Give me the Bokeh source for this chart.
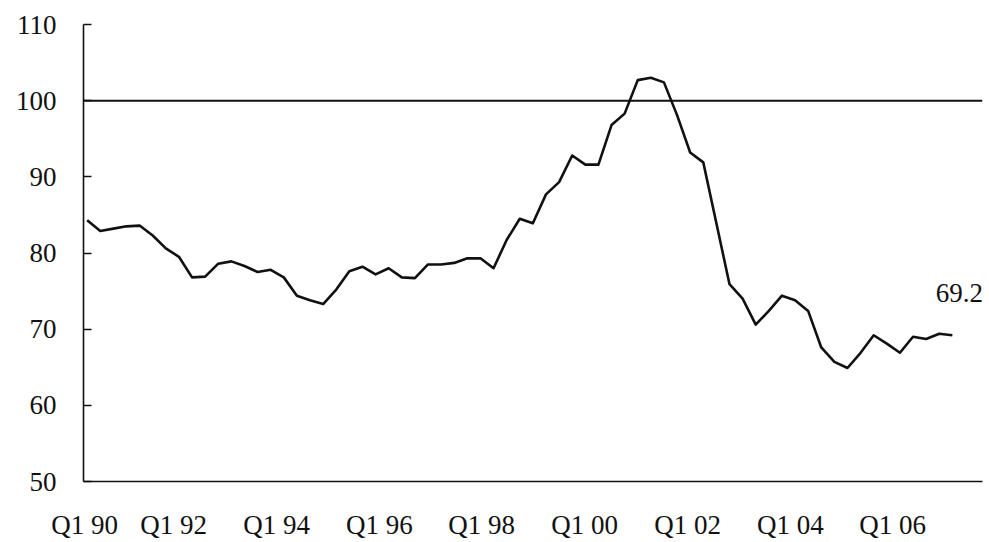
from bokeh.plotting import figure
from bokeh.models import FixedTicker, Span, Label, Range1d
from bokeh.embed import file_html
from bokeh.resources import INLINE

# Quarterly index, Q1 1990 .. Q3 2006
quarters = list(range(67))
index_values = [
    84.3, 82.9, 83.2, 83.5, 83.6, 82.3, 80.6, 79.5,   # 1990-91
    76.8, 76.9, 78.6, 78.9, 78.3, 77.5, 77.8, 76.8,   # 1992-93
    74.4, 73.8, 73.3, 75.2, 77.6, 78.2, 77.2, 78.0,   # 1994-95
    76.8, 76.7, 78.5, 78.5, 78.7, 79.3, 79.3, 78.0,   # 1996-97
    81.7, 84.5, 83.9, 87.7, 89.3, 92.8, 91.6, 91.6,   # 1998-99
    96.8, 98.3, 102.7, 103.0, 102.4, 98.1, 93.2, 91.9,  # 2000-01
    83.9, 75.9, 74.0, 70.6, 72.4, 74.4, 73.8, 72.4,   # 2002-03
    67.6, 65.7, 64.9, 66.9, 69.2, 68.1, 66.9, 69.0,   # 2004-05
    68.7, 69.4, 69.2,                                  # 2006
]
# centres of the reference's category labels, in quarter units
label_positions = [-0.2, 6.6, 14.45, 22.3, 30.1, 37.95, 45.8, 53.65, 61.45]
tick_labels = ["Q1 90", "Q1 92", "Q1 94", "Q1 96", "Q1 98",
               "Q1 00", "Q1 02", "Q1 04", "Q1 06"]
y_ticks = [50, 60, 70, 80, 90, 100, 110]
reference_level = 100
last_label = "69.2"

FONT = "Liberation Serif"
FSIZE = "27px"
INK = "#111111"

p = figure(width=989, height=542,
           x_range=Range1d(-0.28, 68.3), y_range=Range1d(y_ticks[0], y_ticks[-1]),
           output_backend="svg", toolbar_location=None,
           min_border_left=83, min_border_right=7,
           min_border_top=24, min_border_bottom=60)
p.outline_line_color = None
p.xgrid.grid_line_color = None
p.ygrid.grid_line_color = None
p.background_fill_color = "white"
p.border_fill_color = "white"

p.line(quarters, index_values, line_color=INK, line_width=2.6, line_join="round")

p.add_layout(Span(location=reference_level, dimension="width",
                  line_color=INK, line_width=2))

p.add_layout(Label(x=quarters[-1], y=index_values[-1], text=last_label,
                   x_offset=7, y_offset=42,
                   text_align="center", text_baseline="middle",
                   text_font=FONT, text_font_size=FSIZE, text_color=INK))

ya = p.yaxis[0]
ya.ticker = FixedTicker(ticks=y_ticks)
ya.minor_tick_line_color = None
ya.major_tick_in = 8
ya.major_tick_out = 0
ya.major_tick_line_width = 1.5
ya.major_tick_line_color = INK
ya.axis_line_width = 1.6
ya.axis_line_color = INK
ya.major_label_standoff = 27
ya.major_label_text_font = FONT
ya.major_label_text_font_size = FSIZE
ya.major_label_text_color = INK

xa = p.xaxis[0]
xa.ticker = FixedTicker(ticks=label_positions)
xa.major_label_overrides = {t: s for t, s in zip(label_positions, tick_labels)}
xa.minor_tick_line_color = None
xa.major_tick_line_color = None
xa.major_tick_in = 0
xa.major_tick_out = 0
xa.axis_line_width = 1.6
xa.axis_line_color = INK
xa.major_label_standoff = 28
xa.major_label_text_font = FONT
xa.major_label_text_font_size = FSIZE
xa.major_label_text_color = INK

open("out.html", "w").write(file_html(p, INLINE))
